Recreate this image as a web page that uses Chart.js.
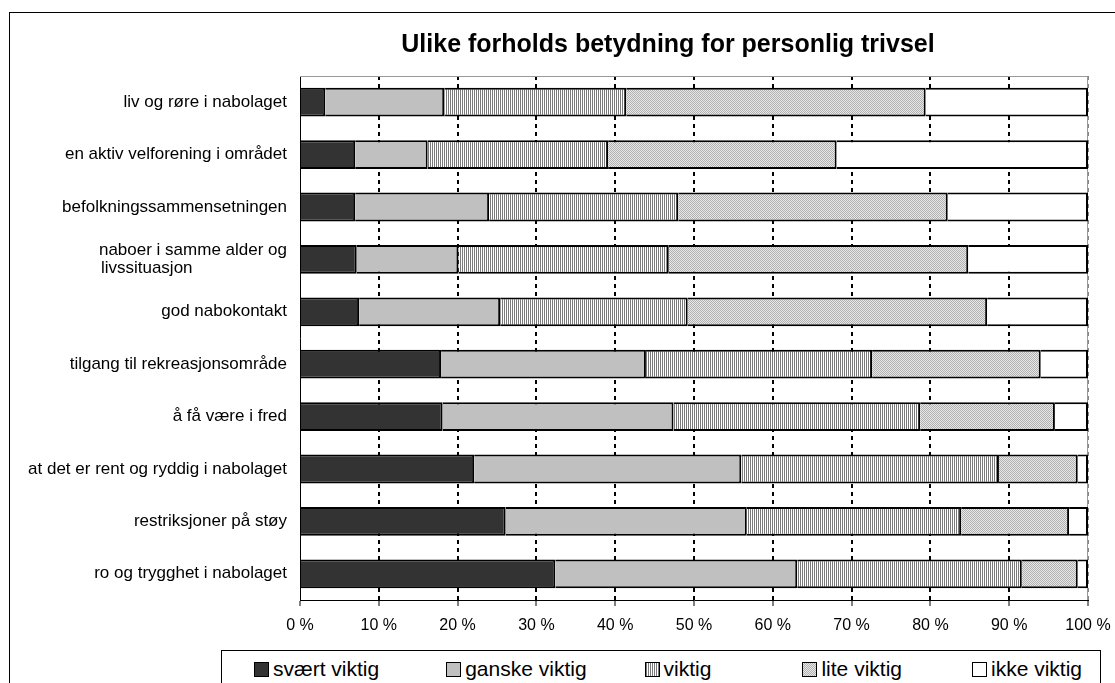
<!DOCTYPE html>
<html lang="no">
<head>
<meta charset="utf-8">
<title>Ulike forholds betydning for personlig trivsel</title>
<script src="https://cdn.jsdelivr.net/npm/chart.js@4.4.0/dist/chart.umd.min.js"></script>
<style>
  html, body { margin: 0; padding: 0; background: #fff; }
  body { width: 1115px; height: 683px; overflow: hidden; position: relative; font-family: "Liberation Sans", Arial, sans-serif; }
  #frame { position: absolute; left: 9px; top: 12px; width: 1400px; height: 1000px; border-left: 1px solid #000; border-top: 1px solid #000; pointer-events: none; }
  #chart { position: absolute; left: 0; top: 0; }
  #legend { position: absolute; left: 221px; top: 650px; width: 880px; height: 60px; border: 1px solid #000; box-sizing: border-box;
    display: flex; align-items: flex-start; padding: 6px 0 0 32px; background: #fff; }
  #legend .item { display: flex; align-items: center; font-size: 21px; line-height: 24px; color: #000; white-space: nowrap; }
  #legend .sw { width: 13px; height: 13px; border: 1px solid #000; margin-right: 4px; flex-shrink: 0; }
</style>
</head>
<body>
<div id="frame"></div>
<!-- the original chart is wider than the crop; canvas runs past the right edge -->
<canvas id="chart" width="1336" height="683"></canvas>
<div id="legend"></div>
<script>
// categories top to bottom
const categories = [
  'liv og røre i nabolaget',
  'en aktiv velforening i området',
  'befolkningssammensetningen',
  ['naboer i samme alder og', 'livssituasjon'],
  'god nabokontakt',
  'tilgang til rekreasjonsområde',
  'å få være i fred',
  'at det er rent og ryddig i nabolaget',
  'restriksjoner på støy',
  'ro og trygghet i nabolaget'
];
const seriesNames = ['svært viktig', 'ganske viktig', 'viktig', 'lite viktig', 'ikke viktig'];

// percent per category
const svaertViktig = [3.2, 7.0, 7.0, 7.2, 7.5, 17.9, 18.1, 22.1, 26.1, 32.4];
const ganskeViktig = [15.1, 9.2, 17.0, 12.9, 17.9, 26.0, 29.3, 33.9, 30.6, 30.7];
const viktig       = [23.1, 22.9, 24.0, 26.7, 23.8, 28.7, 31.3, 32.7, 27.2, 28.5];
const liteViktig   = [38.0, 29.0, 34.2, 38.0, 38.0, 21.4, 17.1, 10.0, 13.7, 7.1];
const ikkeViktig   = [20.6, 31.9, 17.8, 15.2, 12.8, 6.0, 4.2, 1.3, 2.4, 1.3];

const xTicks = { min: 0, max: 100, step: 10 };

const canvas = document.getElementById('chart');
const ctx = canvas.getContext('2d');

function makePattern(w, h, draw) {
  const c = document.createElement('canvas');
  c.width = w; c.height = h;
  draw(c.getContext('2d'));
  return ctx.createPattern(c, 'repeat');
}

const stripes = makePattern(2, 2, g => {
  g.fillStyle = '#fff'; g.fillRect(0, 0, 2, 2);
  g.fillStyle = '#7a7a7a'; g.fillRect(0, 0, 1, 2);
});
const dots = makePattern(2, 2, g => {
  g.fillStyle = '#e8e8e8'; g.fillRect(0, 0, 2, 2);
  g.fillStyle = '#b0b0b0'; g.fillRect(0, 0, 1, 1); g.fillRect(1, 1, 1, 1);
});

const fills = ['#333333', '#c0c0c0', stripes, dots, '#ffffff'];
const swatchCss = [
  'background:#333333',
  'background:#c0c0c0',
  'background:repeating-linear-gradient(90deg,#7a7a7a 0 1px,#fff 1px 2px)',
  'background:repeating-conic-gradient(#b0b0b0 0 25%,#e8e8e8 0 50%) 0 0/2px 2px',
  'background:#ffffff'
];
const legendGaps = [0, 67, 58, 91, 70];
const values = [svaertViktig, ganskeViktig, viktig, liteViktig, ikkeViktig];

// line up the wrapped label to the left like the original
const measure = document.createElement('canvas').getContext('2d');
const labelFont = '17px "Liberation Sans", Arial, sans-serif';
function padLines(lines) {
  measure.font = labelFont;
  const w = Math.max(...lines.map(l => measure.measureText(l).width));
  const sp = measure.measureText(' ').width;
  return lines.map(l => l + ' '.repeat(Math.round((w - measure.measureText(l).width) / sp)));
}

// gray top and right edge of the plot area
const plotFrame = {
  id: 'plotFrame',
  beforeDatasetsDraw(chart) {
    const { ctx: c, chartArea: a } = chart;
    c.save();
    c.strokeStyle = '#999';
    c.lineWidth = 1;
    c.beginPath();
    c.moveTo(a.left, a.top + 0.5);
    c.lineTo(a.right - 0.5, a.top + 0.5);
    c.lineTo(a.right - 0.5, a.bottom);
    c.stroke();
    c.restore();
  }
};

Chart.defaults.font.family = '"Liberation Sans", Arial, sans-serif';
Chart.defaults.color = '#000';

new Chart(ctx, {
  type: 'bar',
  data: {
    labels: categories,
    datasets: seriesNames.map((name, i) => ({
      label: name,
      data: values[i],
      backgroundColor: fills[i],
      borderColor: '#000',
      borderWidth: 2,
      borderSkipped: 'start',
      barPercentage: 0.55,
      categoryPercentage: 1
    }))
  },
  options: {
    indexAxis: 'y',
    responsive: false,
    animation: false,
    events: [],
    layout: { padding: { left: 10, right: 10, top: 0, bottom: 43 } },
    plugins: {
      legend: { display: false },
      tooltip: { enabled: false },
      title: {
        display: true,
        text: 'Ulike forholds betydning for personlig trivsel',
        font: { size: 25, weight: 'bold' },
        color: '#000',
        padding: { top: 30, bottom: 16 }
      }
    },
    scales: {
      x: {
        stacked: true,
        min: xTicks.min,
        max: xTicks.max,
        afterFit: s => { s.height = 40; },
        ticks: {
          stepSize: xTicks.step,
          padding: 10,
          maxRotation: 0,
          font: { size: 16 },
          callback: v => v + ' %'
        },
        grid: {
          color: c => (c.index === 0 ? 'rgba(0,0,0,0)' : (c.tick && c.tick.value === 100 ? '#888' : '#000')),
          lineWidth: 2,
          tickLength: 6,
          tickColor: '#000',
          tickWidth: 1
        },
        border: { display: true, color: '#000', width: 1, dash: [4, 4] }
      },
      y: {
        stacked: true,
        afterFit: s => { s.width = 290; },
        ticks: {
          padding: 13,
          font: { size: 17, lineHeight: 1.05 },
          callback: function (v, i) {
            const l = categories[i];
            return Array.isArray(l) ? padLines(l) : l;
          }
        },
        grid: { display: false, drawTicks: false },
        border: { display: true, color: '#000', width: 1 }
      },
      // empty space on the right, the part of the chart that is cropped away
      yRight: {
        type: 'category',
        position: 'right',
        afterFit: s => { s.width = 238; },
        ticks: { display: false },
        grid: { display: false, drawTicks: false },
        border: { display: false }
      }
    }
  },
  plugins: [plotFrame]
});

// legend box under the axis
const legend = document.getElementById('legend');
seriesNames.forEach((name, i) => {
  const item = document.createElement('div');
  item.className = 'item';
  item.style.marginLeft = legendGaps[i] + 'px';
  item.innerHTML = '<span class="sw" style="' + swatchCss[i] + '"></span><span>' + name + '</span>';
  legend.appendChild(item);
});
</script>
</body>
</html>
